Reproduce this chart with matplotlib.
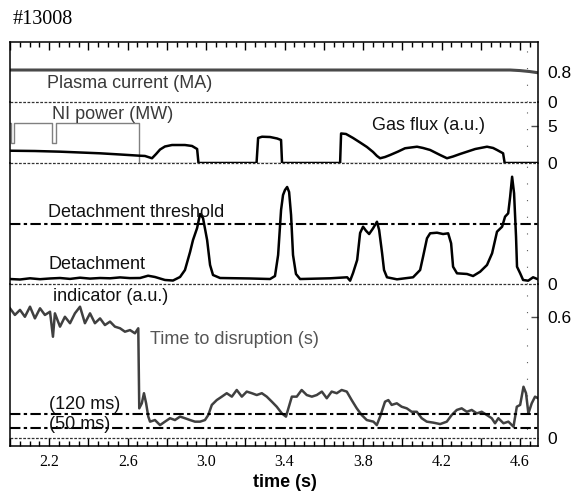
import matplotlib
matplotlib.use("Agg")
import matplotlib.pyplot as plt
from matplotlib.ticker import FixedLocator, FixedFormatter, MultipleLocator

plt.rcParams["font.family"] = ["Liberation Sans", "DejaVu Sans"]

# ---- data (shot #13008) ----
t_lim = (2.0, 4.692)

# plasma current (MA)
ip_t = [2.0, 4.55, 4.60, 4.65, 4.692]
ip_v = [0.853, 0.853, 0.838, 0.812, 0.78]

# NI power (MW), step signal
ni_t = [2.0, 2.003, 2.022, 2.213, 2.233, 2.660, 4.692]
ni_v = [5.34, 2.7, 5.34, 2.7, 5.34, 0.0, 0.0]

# gas flux (a.u.)
gas_t = [2.000, 2.127, 2.255, 2.357, 2.459, 2.561, 2.658, 2.688, 2.724, 2.745,
         2.765, 2.790, 2.826, 2.892, 2.928, 2.954, 2.961, 3.257, 3.265, 3.285,
         3.326, 3.362, 3.382, 3.387, 3.683, 3.688, 3.713, 3.749, 3.785, 3.820,
         3.851, 3.871, 3.887, 3.912, 3.938, 3.979, 4.014, 4.075, 4.106, 4.142,
         4.193, 4.228, 4.259, 4.295, 4.372, 4.432, 4.463, 4.483, 4.514, 4.522,
         4.692]
gas_v = [1.66, 1.62, 1.53, 1.42, 1.31, 1.15, 0.99, 0.95, 0.64, 1.22,
         1.82, 2.23, 2.43, 2.43, 2.30, 1.89, 0.0, 0.0, 3.38, 3.55,
         3.51, 3.31, 3.11, 0.0, 0.0, 3.99, 3.92, 3.38, 2.77, 2.16,
         1.49, 0.95, 0.64, 0.81, 1.08, 1.55, 1.99, 2.20, 2.03, 1.76,
         1.08, 0.64, 0.88, 1.22, 1.89, 2.20, 2.03, 1.76, 1.31, 0.0,
         0.0]

# detachment indicator (a.u.), threshold = 1
det_t = [2.000, 2.051, 2.102, 2.153, 2.204, 2.255, 2.306, 2.357, 2.408, 2.459,
         2.510, 2.561, 2.612, 2.663, 2.704, 2.739, 2.790, 2.831, 2.867, 2.892,
         2.918, 2.933, 2.954, 2.969, 2.984, 3.005, 3.020, 3.035, 3.071, 3.224,
         3.326, 3.351, 3.367, 3.382, 3.392, 3.402, 3.413, 3.423, 3.433, 3.443,
         3.458, 3.479, 3.632, 3.719, 3.734, 3.749, 3.770, 3.785, 3.800, 3.815,
         3.831, 3.851, 3.871, 3.882, 3.897, 3.907, 3.922, 3.973, 4.055, 4.091,
         4.106, 4.126, 4.142, 4.177, 4.208, 4.234, 4.249, 4.259, 4.279, 4.330,
         4.361, 4.397, 4.432, 4.458, 4.483, 4.509, 4.524, 4.540, 4.550, 4.560,
         4.570, 4.580, 4.585, 4.601, 4.616, 4.642, 4.667, 4.692]
det_v = [0.083, 0.075, 0.095, 0.080, 0.092, 0.100, 0.085, 0.105, 0.090, 0.100,
         0.095, 0.110, 0.098, 0.100, 0.138, 0.117, 0.067, 0.058, 0.117, 0.233,
         0.533, 0.733, 0.933, 1.167, 1.100, 0.733, 0.317, 0.150, 0.100, 0.092,
         0.083, 0.133, 0.483, 1.233, 1.483, 1.567, 1.617, 1.533, 1.150, 0.483,
         0.167, 0.083, 0.095, 0.112, 0.055, 0.183, 0.400, 0.850, 0.955, 0.888,
         0.833, 0.928, 1.038, 0.900, 0.517, 0.233, 0.112, 0.078, 0.112, 0.233,
         0.455, 0.762, 0.845, 0.855, 0.833, 0.845, 0.678, 0.288, 0.178, 0.167,
         0.133, 0.205, 0.317, 0.512, 0.872, 0.955, 1.122, 1.178, 1.455, 1.788,
         1.512, 0.788, 0.288, 0.178, 0.067, 0.055, 0.112, 0.078]
det_threshold = 1.0

# time to disruption (s)
ttd_t = [2.000, 2.025, 2.051, 2.076, 2.102, 2.127, 2.153, 2.178, 2.204, 2.219,
         2.229, 2.255, 2.280, 2.306, 2.331, 2.357, 2.382, 2.408, 2.433, 2.459,
         2.484, 2.510, 2.535, 2.561, 2.586, 2.612, 2.637, 2.654, 2.659, 2.672,
         2.683, 2.694, 2.705, 2.714, 2.739, 2.765, 2.790, 2.816, 2.841, 2.867,
         2.892, 2.918, 2.943, 2.969, 2.994, 3.011, 3.029, 3.054, 3.080, 3.105,
         3.131, 3.156, 3.182, 3.207, 3.233, 3.258, 3.284, 3.309, 3.335, 3.360,
         3.386, 3.407, 3.437, 3.462, 3.487, 3.513, 3.539, 3.564, 3.590, 3.615,
         3.640, 3.666, 3.691, 3.717, 3.742, 3.768, 3.793, 3.819, 3.853, 3.870,
         3.887, 3.912, 3.929, 3.946, 3.972, 3.997, 4.023, 4.048, 4.074, 4.099,
         4.125, 4.159, 4.193, 4.227, 4.252, 4.278, 4.303, 4.329, 4.354, 4.380,
         4.405, 4.431, 4.456, 4.473, 4.490, 4.516, 4.541, 4.567, 4.584, 4.601,
         4.618, 4.631, 4.643, 4.660, 4.677, 4.692]
ttd_v = [0.643, 0.610, 0.635, 0.601, 0.651, 0.593, 0.643, 0.610, 0.626, 0.502,
         0.618, 0.552, 0.601, 0.569, 0.618, 0.651, 0.569, 0.618, 0.569, 0.593,
         0.560, 0.577, 0.552, 0.544, 0.527, 0.535, 0.519, 0.544, 0.147, 0.172,
         0.222, 0.172, 0.106, 0.081, 0.089, 0.064, 0.081, 0.098, 0.089, 0.106,
         0.098, 0.089, 0.081, 0.081, 0.089, 0.114, 0.164, 0.188, 0.205, 0.222,
         0.205, 0.238, 0.205, 0.230, 0.222, 0.213, 0.222, 0.205, 0.180, 0.155,
         0.122, 0.106, 0.205, 0.205, 0.238, 0.213, 0.205, 0.213, 0.230, 0.197,
         0.230, 0.222, 0.238, 0.230, 0.188, 0.147, 0.114, 0.089, 0.081, 0.064,
         0.106, 0.180, 0.188, 0.164, 0.172, 0.155, 0.147, 0.130, 0.130, 0.098,
         0.081, 0.076, 0.069, 0.081, 0.114, 0.139, 0.147, 0.130, 0.139, 0.122,
         0.130, 0.114, 0.098, 0.073, 0.098, 0.073, 0.081, 0.056, 0.155, 0.164,
         0.254, 0.222, 0.122, 0.172, 0.205, 0.197]
ttd_levels = [0.12, 0.05]
ttd_level_labels = ["(120 ms)", "(50 ms)"]

# ---- layout (pixels) ----
W, H = 573, 492
x_left, x_right = 10, 538
edges = [42, 102, 163, 284, 446]
ylims = [(0, 1.6), (0, 8.24), (0, 2.017), (-0.0397, 0.7635)]

fig = plt.figure(figsize=(W / 100, H / 100), dpi=100)
axes = []
for (top, bot), yl in zip(zip(edges[:-1], edges[1:]), ylims):
    ax = fig.add_axes([x_left / W, 1 - bot / H, (x_right - x_left) / W, (bot - top) / H])
    ax.patch.set_visible(False)
    ax.set_xlim(*t_lim)
    ax.set_ylim(*yl)
    for s in ax.spines.values():
        s.set_linewidth(1.1)
    ax.spines["top"].set_visible(False)
    ax.spines["bottom"].set_visible(False)
    ax.yaxis.tick_right()
    ax.yaxis.remove_overlapping_locs = False
    ax.tick_params(axis="y", which="major", length=0, pad=7, labelsize=12.5)
    ax.tick_params(axis="y", which="minor", direction="in", length=5, width=1, color="0.3")
    ax.tick_params(axis="x", which="both", bottom=False, top=False,
                   labelbottom=False, labeltop=False)
    ax.axvline(4.636, color="0.35", lw=0.8, ls=(0, (1, 14)), zorder=1)
    axes.append(ax)
ax1, ax2, ax3, ax4 = axes

sep = dict(color="0.2", lw=0.9, ls=(0, (2.2, 1.2)), clip_on=False, zorder=2)
thr = dict(color="black", lw=1.5, ls=(0, (5, 1.6, 1.6, 1.6)), zorder=3)
lbl = dict(fontsize=13, ha="left", va="center")

# panel 1: plasma current
ax1.plot(ip_t, ip_v, color="#4a4a4a", lw=2.2)
ax1.axhline(0, **sep)
ax1.set_yticks([0, 0.8])
ax1.set_yticklabels(["0", "0.8"])
ax1.text(2.189, 0.5, "Plasma current (MA)", color="#3a3a3a", **lbl)

# panel 2: NI power + gas flux
ax2.plot(ni_t, ni_v, drawstyle="steps-post", color="#808080", lw=1.0)
ax2.plot(gas_t, gas_v, color="black", lw=1.8)
ax2.axhline(0, **sep)
ax2.set_yticks([0, 5])
ax2.set_yticklabels(["0", "5"])
ax2.set_yticks([5], minor=True)
ax2.text(2.214, 6.5, "NI power (MW)", color="#3a3a3a", **lbl)
ax2.text(3.846, 5.1, "Gas flux (a.u.)", color="#111111", **lbl)

# panel 3: detachment indicator
ax3.plot(det_t, det_v, color="black", lw=1.8)
ax3.axhline(det_threshold, **thr)
ax3.axhline(0, **sep)
ax3.set_yticks([0])
ax3.set_yticklabels(["0"])
ax3.text(2.194, 1.2, "Detachment threshold", color="#111111", **lbl)
ax3.text(2.194, 0.33, "Detachment", color="#111111", **lbl)

# panel 4: time to disruption
ax4.plot(ttd_t, ttd_v, color="#404040", lw=1.8)
for lev in ttd_levels:
    ax4.axhline(lev, **thr)
ax4.text(2.199, 0.168, ttd_level_labels[0], color="#111111", **lbl)
ax4.text(2.199, 0.069, ttd_level_labels[1], color="#111111", **lbl)
ax4.axhline(0, **sep)
ax4.set_yticks([0, 0.6])
ax4.set_yticklabels(["0", "0.6"])
ax4.set_yticks([0.6], minor=True)
ax4.text(2.219, 0.704, "indicator (a.u.)", color="#111111", **lbl)
ax4.text(2.714, 0.486, "Time to disruption (s)", color="#555555", **lbl)

# x axis: ticks on top of first panel and bottom of last
major = [2.0 + 0.2 * i for i in range(14)]
major_lbl = ["%.1f" % v if i % 2 == 1 else "" for i, v in enumerate(major)]
ax1.spines["top"].set_visible(True)
ax4.spines["bottom"].set_visible(True)
for ax in (ax1, ax4):
    ax.xaxis.set_major_locator(FixedLocator(major))
    ax.xaxis.set_minor_locator(MultipleLocator(0.05))
ax1.tick_params(axis="x", which="both", top=True, direction="in", width=1)
ax1.tick_params(axis="x", which="major", length=6)
ax1.tick_params(axis="x", which="minor", length=3.5)
ax4.xaxis.set_major_formatter(FixedFormatter(major_lbl))
ax4.tick_params(axis="x", which="both", bottom=True, labelbottom=True,
                direction="in", width=1)
ax4.tick_params(axis="x", which="major", length=6, pad=6, labelsize=11.5)
ax4.tick_params(axis="x", which="minor", length=3.5)
for tl in ax4.get_xticklabels():
    tl.set_family(["Liberation Serif", "DejaVu Serif"])
ax4.set_xlabel("time (s)", fontsize=13, fontweight="bold")
ax4.xaxis.set_label_coords((285 - x_left) / (x_right - x_left), -0.228)
ax4.xaxis.label.set_va("center")

fig.text(13 / W, 1 - 20 / H, "#13008", family=["Liberation Serif", "DejaVu Serif"],
         fontsize=14.5, va="center", ha="left")

fig.savefig("out.png", dpi=100)
